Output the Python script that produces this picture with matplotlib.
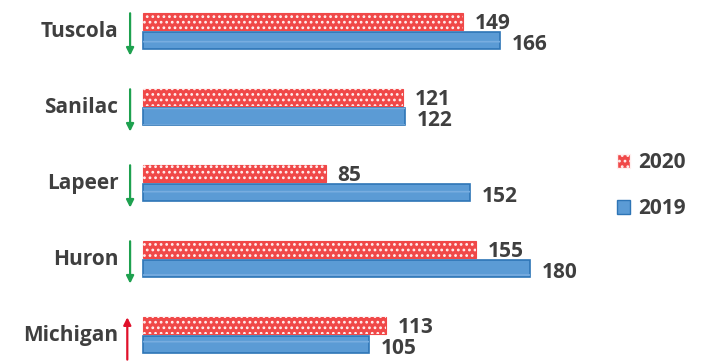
import matplotlib.pyplot as plt
from matplotlib.patches import Patch

regioes = ["Tuscola", "Sanilac", "Lapeer", "Huron", "Michigan"]
valores_2020 = [149, 121, 85, 155, 113]
valores_2019 = [166, 122, 152, 180, 105]
tendencia = ["down", "down", "down", "down", "up"]

vermelho = "#f04848"
azul = "#5b9bd5"
azul_borda = "#2e75b6"
cinza = "#3f3f3f"

plt.rcParams["hatch.linewidth"] = 1.2

fig = plt.figure(figsize=(7.01, 3.62), dpi=100)
ax = fig.add_axes([0, 0, 1, 1])
ax.set_xlim(-66.5, 259.5)
ax.set_ylim(4.355, -0.408)
ax.axis("off")

altura = 0.235
desloc = 0.125
fonte = dict(fontsize=15, fontweight="bold", color=cinza, family="Open Sans")

for i, nome in enumerate(regioes):
    y20 = i - desloc
    y19 = i + desloc
    # 2020: vermelho com pontinhos brancos
    ax.barh(y20, valores_2020[i], height=altura, color=vermelho, edgecolor=vermelho, linewidth=0.8)
    ax.barh(y20, valores_2020[i], height=altura, color="none", edgecolor="#fff0f0", hatch="...", linewidth=0)
    # 2019: azul com borda escura
    ax.barh(y19, valores_2019[i], height=altura, color=azul, edgecolor=azul_borda, linewidth=1.2)
    ax.barh(y19, valores_2019[i], height=altura, color="none", edgecolor="#78ade0", hatch="- ", linewidth=0)

    ax.text(valores_2020[i] + 5.5, y20 + 0.03, str(valores_2020[i]), va="center", ha="left", **fonte)
    ax.text(valores_2019[i] + 5.5, y19 + 0.05, str(valores_2019[i]), va="center", ha="left", **fonte)

    ax.text(-11.5, i, nome, va="center", ha="right", **fonte)

    if tendencia[i] == "down":
        ax.annotate("", xy=(-6, i + 0.36), xytext=(-6, i - 0.27),
                    arrowprops=dict(arrowstyle="-|>", color="#1ea14f", lw=1.6, mutation_scale=11))
    else:
        ax.annotate("", xy=(-7.3, i - 0.27), xytext=(-7.3, i + 0.36),
                    arrowprops=dict(arrowstyle="-|>", color="#e0102a", lw=1.6, mutation_scale=11))

handles = [
    Patch(facecolor=vermelho, edgecolor="#fff0f0", hatch="...", label="2020"),
    Patch(facecolor=azul, edgecolor=azul_borda, label="2019"),
]
leg = ax.legend(handles=handles, loc="center left", bbox_to_anchor=(0.853, 0.487),
                frameon=False, handlelength=0.65, handleheight=0.65, handletextpad=0.4,
                labelspacing=1.2, prop=dict(size=15, weight="bold", family="Open Sans"))
for t in leg.get_texts():
    t.set_color(cinza)

fig.savefig("out.png", dpi=100)
